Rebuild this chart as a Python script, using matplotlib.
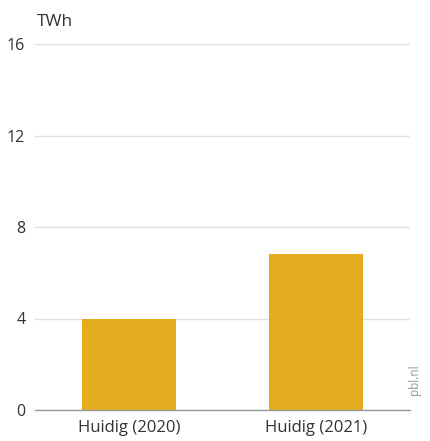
import matplotlib
matplotlib.use("Agg")
import matplotlib.pyplot as plt

# data
categories = ["Huidig (2020)", "Huidig (2021)"]
values = [4.0, 6.8]
yticks = [0, 4, 8, 12, 16]

plt.rcParams['font.family'] = ['Open Sans', 'DejaVu Sans']

fig = plt.figure(figsize=(4.30, 4.41), dpi=100)
ax = fig.add_axes([35/430, 31/441, 375/430, 366/441])

ax.bar(range(len(categories)), values, width=0.5, color='#e3ad1f', zorder=2)

ax.set_xlim(-0.5, 1.5)
ax.set_ylim(0, 16)
ax.set_yticks(yticks)
ax.set_yticklabels([str(t) for t in yticks], fontsize=11.5, color='#333333')
ax.set_xticks(range(len(categories)))
ax.set_xticklabels(categories, fontsize=12, color='#333333')
ax.tick_params(axis='both', length=0)
ax.tick_params(axis='y', pad=7)
ax.tick_params(axis='x', pad=7)

ax.grid(axis='y', color='#e0e0e0', linewidth=1, zorder=0)
for s in ['top', 'right', 'left']:
    ax.spines[s].set_visible(False)
ax.spines['bottom'].set_color('#999999')
ax.spines['bottom'].set_linewidth(1)
ax.spines['bottom'].set_zorder(3)

fig.text(37/430, 1 - 22/441, "TWh", fontsize=12.5, color='#333333', va='center', ha='left')
fig.text(415/430, 1 - 380/441, "pbl.nl", fontsize=8.5, color='#999999', rotation=90,
         va='center', ha='center')

fig.savefig("out.png", dpi=100)
